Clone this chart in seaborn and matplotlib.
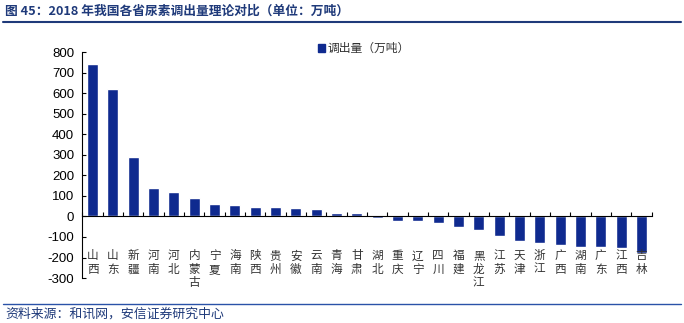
import matplotlib
matplotlib.use("Agg")
import matplotlib.pyplot as plt
import matplotlib.transforms as mtrans
from matplotlib.patches import Patch
import seaborn as sns
import pandas as pd
import numpy as np

provinces = ["山西", "山东", "新疆", "河南", "河北", "内蒙古", "宁夏", "海南", "陕西", "贵州",
             "安徽", "云南", "青海", "甘肃", "湖北", "重庆", "辽宁", "四川", "福建", "黑龙江",
             "江苏", "天津", "浙江", "广西", "湖南", "广东", "江西", "吉林"]
values = [740, 620, 290, 140, 120, 92, 62, 57, 47, 46,
          40, 35, 17, 16, -10, -21, -20, -34, -52, -64,
          -93, -118, -129, -140, -147, -147, -153, -179]
yticks = list(range(-300, 801, 100))
series_name = "调出量（万吨）"

sns.set_theme(style="white")
plt.rcParams['font.family'] = ['Noto Sans CJK SC', 'DejaVu Sans']
plt.rcParams['axes.unicode_minus'] = False

df = pd.DataFrame({"省份": provinces, series_name: values})

fig = plt.figure(figsize=(6.84, 3.23), dpi=100)
ax = fig.add_axes([0.1205, 0.139, 0.832, 0.700])

bar_color = "#0F2A8F"
sns.barplot(data=df, x="省份", y=series_name, color=bar_color, width=0.54,
            ax=ax, saturation=1)

n = len(provinces)
ax.set_xlim(-0.5, n - 0.5)
ax.set_ylim(-300, 800)
ax.set_yticks(yticks)
ax.set_yticklabels([str(v) for v in yticks], fontfamily='Liberation Sans', fontsize=9.5, color='black')
ax.tick_params(axis='y', direction='in', length=3, width=0.8, color='black', left=True, pad=6)

for s in ['top', 'right']:
    ax.spines[s].set_visible(False)
ax.spines['left'].set_color('black')
ax.spines['left'].set_linewidth(0.8)
ax.spines['bottom'].set_position(('data', 0))
ax.spines['bottom'].set_color('black')
ax.spines['bottom'].set_linewidth(0.8)

ax.set_xticks(np.arange(-0.5, n, 1.0))
ax.set_xticklabels([])
ax.tick_params(axis='x', direction='in', length=3, width=0.8, color='black', bottom=True)
ax.set_xlabel("")
ax.set_ylabel("")

trans = mtrans.blended_transform_factory(ax.transData, ax.transAxes)
for i, p in enumerate(provinces):
    ax.text(i, 0.127, "\n".join(p), transform=trans, ha='center', va='top',
            fontsize=8.4, linespacing=1.05, color='#333333')

handle = Patch(facecolor=bar_color, edgecolor=bar_color)
leg = ax.legend([handle], [series_name], loc='upper left', bbox_to_anchor=(0.405, 1.065),
                frameon=False, fontsize=8.5, handlelength=0.6, handleheight=0.6,
                handletextpad=0.2, borderaxespad=0)
for t in leg.get_texts():
    t.set_color('#333333')

title_color = "#1F3A7A"
fig.text(0.008, 0.965, "图 45：2018 年我国各省尿素调出量理论对比（单位：万吨）",
         fontsize=9.2, fontweight='bold', color=title_color, ha='left', va='center')
fig.add_artist(plt.Line2D([0.005, 0.995], [0.932, 0.932], color='#1F3A7A', lw=1.5,
                          transform=fig.transFigure))
fig.add_artist(plt.Line2D([0.005, 0.995], [0.059, 0.059], color='#2A52A8', lw=1.0,
                          transform=fig.transFigure))
fig.text(0.008, 0.029, "资料来源：和讯网，安信证券研究中心", fontsize=9.3, style='italic',
         color='#1F3A7A', ha='left', va='center')

fig.savefig("out.png", dpi=100, facecolor='white')
